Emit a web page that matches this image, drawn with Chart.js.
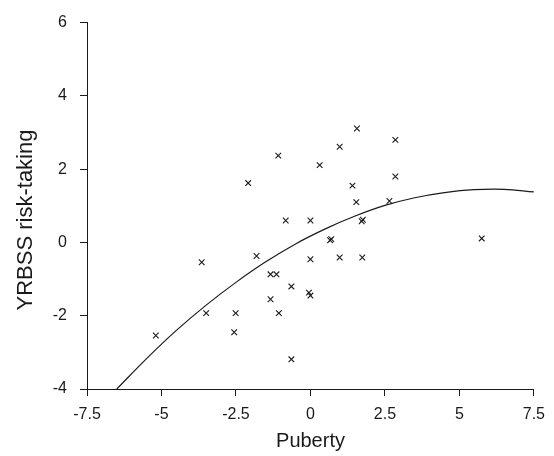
<!DOCTYPE html>
<html>
<head>
<meta charset="utf-8">
<script src="https://cdn.jsdelivr.net/npm/chart.js@4/dist/chart.umd.min.js"></script>
<style>
  html, body { margin: 0; padding: 0; background: #fff; }
  #wrap { width: 554px; height: 456px; }
</style>
</head>
<body>
<div id="wrap"><canvas id="chart" width="554" height="456"></canvas></div>
<script>
// observed points (puberty score vs YRBSS risk-taking)
const puberty = [-5.19, -3.65, -3.5, -2.56, -2.51, -2.09, -1.81, -1.34, -1.14, -1.34, -1.06, -1.08,
  -0.83, -0.64, -0.64, 0.0, 0.0, -0.05, 0.0, 0.31, 0.66, 0.70, 0.98, 0.98, 1.41, 1.54, 1.56,
  1.72, 1.76, 1.74, 2.65, 2.85, 2.85, 5.75];
const risk = [-2.54, -0.54, -1.93, -2.45, -1.93, 1.62, -0.37, -0.87, -0.87, -1.55, -1.93, 2.37,
  0.60, -1.20, -3.19, 0.60, -0.46, -1.37, -1.45, 2.11, 0.06, 0.09, 2.61, -0.41, 1.55, 1.10, 3.11,
  0.58, 0.62, -0.41, 1.13, 2.80, 1.80, 0.11];

// fitted curve
const curveX = [-6.5, -5.5, -4.5, -3.5, -2.5, -1.5, -0.5, 0.5, 1.5, 2.5, 3.5, 4.5, 5.5, 6.5, 7.5];
const curveY = [-4.0, -3.17, -2.40, -1.71, -1.09, -0.53, -0.04, 0.37, 0.72, 1.01, 1.22, 1.36, 1.44, 1.45, 1.38];

const xTicks = [-7.5, -5, -2.5, 0, 2.5, 5, 7.5];
const yTicks = [-4, -2, 0, 2, 4, 6];

const xTitle = "Puberty";
const yTitle = "YRBSS risk-taking";

const ink = "#1a1a1a";
const fontFam = "'Liberation Sans', Arial, Helvetica, sans-serif";

let points = puberty.map((x, i) => ({ x: x, y: risk[i] }));
let curve = curveX.map((x, i) => ({ x: x, y: curveY[i] }));

// axis titles drawn at fixed spots like the original
const axisTitles = {
  id: 'axisTitles',
  afterDraw(chart) {
    const ctx = chart.ctx;
    ctx.save();
    ctx.fillStyle = ink;
    ctx.textAlign = 'center';
    ctx.textBaseline = 'alphabetic';
    ctx.font = "20px " + fontFam;
    ctx.fillText(xTitle, 310.5, 447);
    ctx.translate(32, 220);
    ctx.rotate(-Math.PI / 2);
    ctx.font = "22px " + fontFam;
    ctx.fillText(yTitle, 0, 0);
    ctx.restore();
  }
};

function axisOpts(min, max, ticks, pad) {
  return {
    type: 'linear',
    min: min,
    max: max,
    afterBuildTicks: scale => { scale.ticks = ticks.map(v => ({ value: v })); },
    grid: { display: true, drawOnChartArea: false, drawTicks: true, tickLength: 7, color: ink, lineWidth: 1 },
    border: { display: true, color: ink, width: 1 },
    ticks: {
      color: ink,
      padding: pad,
      font: { size: 16, family: fontFam },
      maxRotation: 0,
      autoSkip: false,
      callback: v => String(v)
    }
  };
}

let xAxis = axisOpts(-7.5, 7.5, xTicks, 9);
xAxis.afterFit = scale => { scale.height = 67; };
let yAxis = axisOpts(-4, 6, yTicks, 13);
yAxis.afterFit = scale => { scale.width = 87; };

new Chart(document.getElementById('chart'), {
  type: 'scatter',
  data: {
    datasets: [
      {
        data: points,
        pointStyle: 'crossRot',
        pointRadius: 4,
        borderColor: ink,
        borderWidth: 1.1,
        showLine: false
      },
      {
        data: curve,
        showLine: true,
        pointRadius: 0,
        borderColor: ink,
        borderWidth: 1.2,
        tension: 0.4,
        fill: false
      }
    ]
  },
  options: {
    responsive: false,
    animation: false,
    layout: { padding: { left: 0, right: 19, top: 19, bottom: 0 } },
    plugins: {
      legend: { display: false },
      tooltip: { enabled: false }
    },
    scales: { x: xAxis, y: yAxis }
  },
  plugins: [axisTitles]
});
</script>
</body>
</html>
